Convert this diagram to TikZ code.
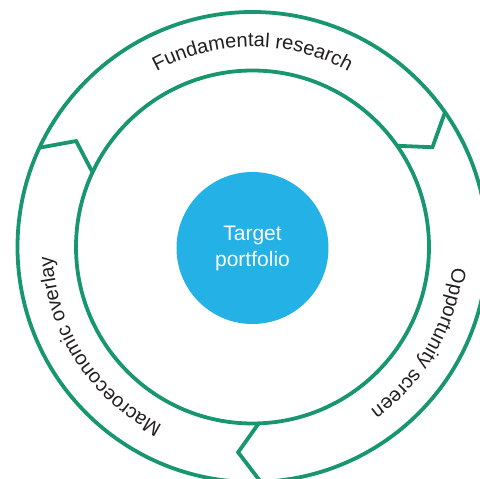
\documentclass[tikz,border=0pt]{standalone}
\usepackage{fontspec}
\setmainfont{Liberation Sans}
\usetikzlibrary{decorations.text}
\definecolor{ringgreen}{RGB}{24,150,112}
\definecolor{targetblue}{RGB}{36,177,230}
\definecolor{labelgray}{RGB}{35,31,32}
\newcommand{\ringfont}{\fontsize{20}{24}\selectfont}

\begin{document}
\begin{tikzpicture}[x=1pt,y=1pt,ring/.style={draw=ringgreen,line width=3.8pt},
  steplabel/.style={decorate,decoration={text along path,text align=center,text color=labelgray}}]
\clip (-252.5,-232) rectangle (227.5,247);
\draw[ring] (0,0) circle (235pt);
\draw[ring] (0,0) circle (176.5pt);
\draw[ring] (155:235pt) -- (149:205.75pt) -- (155:176.5pt);
\draw[ring] (35:235pt) -- (29:205.75pt) -- (35:176.5pt);
\draw[ring] (-88:235pt) -- (-94:205.75pt) -- (-88:176.5pt);
\path[steplabel,decoration={text={|\ringfont|Fundamental research}}] (150:200pt) arc[start angle=150,end angle=30,radius=200pt];
\path[steplabel,decoration={text={|\ringfont|Opportunity screen}}] (30:201pt) arc[start angle=30,end angle=-90,radius=201pt];
\path[steplabel,decoration={text={|\ringfont|Macroeconomic overlay}}] (273:200pt) arc[start angle=273,end angle=153,radius=200pt];
\node at (0,-1) [circle,fill=targetblue,minimum size=152pt,text=white,align=center,font=\fontsize{21}{26}\selectfont] (Target) {Target\\portfolio};
\end{tikzpicture}
\end{document}
